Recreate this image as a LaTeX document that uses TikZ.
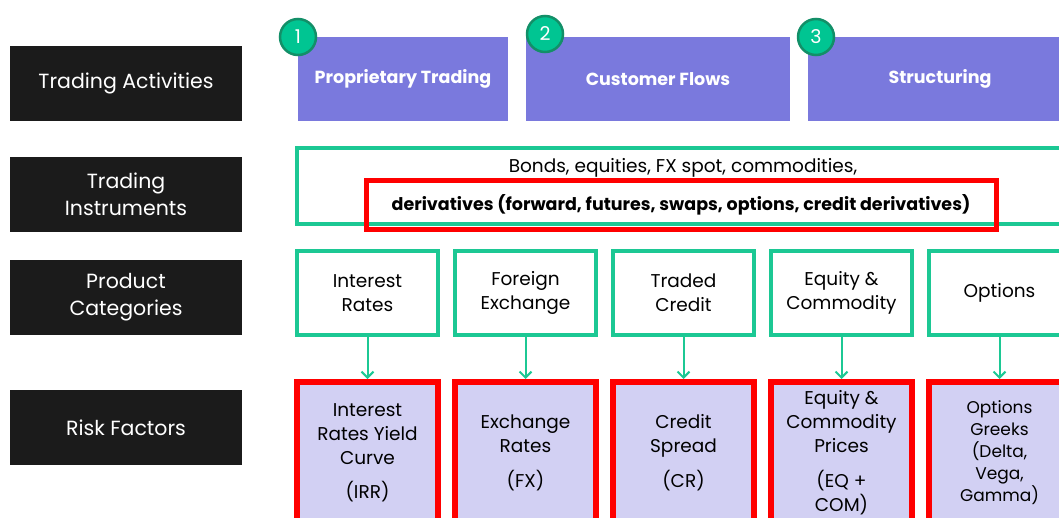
\documentclass[tikz,border=0pt]{standalone}
\usepackage{fontspec}
\setmainfont{Poppins}
\usetikzlibrary{positioning,arrows.meta}

\definecolor{labelblack}{HTML}{1B1B1B}
\definecolor{activityblue}{HTML}{7A79DD}
\definecolor{badgegreen}{HTML}{00C592}
\definecolor{badgeedge}{HTML}{138F68}
\definecolor{catgreen}{HTML}{1CC894}
\definecolor{riskfill}{HTML}{D2D0F3}
\definecolor{riskred}{HTML}{FF0000}

\begin{document}
\begin{tikzpicture}[x=1pt, y=-1pt,
    rowlabel/.style={fill=labelblack, text=white, minimum width=232pt, minimum height=75pt, align=center, inner sep=0pt, outer sep=0pt, font=\fontsize{20.5}{27}\selectfont},
    activity/.style={fill=activityblue, text=white, minimum height=84pt, inner sep=0pt, outer sep=0pt, font=\bfseries\fontsize{17.5}{20}\selectfont},
    badge/.style={circle, fill=badgegreen, draw=badgeedge, line width=2.5pt, text=white, minimum size=36pt, inner sep=0pt, font=\fontsize{19}{20}\selectfont},
    instrbox/.style={draw=catgreen, line width=3.5pt, minimum width=780pt, minimum height=76pt},
    highlight/.style={draw=riskred, line width=5pt, minimum width=630pt, minimum height=49pt, inner sep=0pt, font=\bfseries\fontsize{17.5}{20}\selectfont},
    category/.style={draw=catgreen, line width=3.5pt, minimum width=141pt, minimum height=84pt, align=center, inner sep=0pt, outer sep=0pt, font=\fontsize{18.5}{24}\selectfont},
    riskfactor/.style={draw=riskred, fill=riskfill, line width=6pt, minimum width=141pt, minimum height=142pt, align=center, inner sep=0pt, outer sep=0pt, font=\fontsize{18.5}{24}\selectfont},
    flow/.style={draw=catgreen, line width=2pt, -{Straight Barb[length=6pt, width=12pt]}, shorten >=3pt, shorten <=1.75pt},
    node distance=17pt,
  ]
    \clip (0,0) rectangle (1059,517);

    \node[rowlabel] (actlabel) at (126,83.5) {Trading Activities};
    \node[rowlabel, below=36pt of actlabel] (instrlabel) {Trading\\Instruments};
    \node[rowlabel, below=28pt of instrlabel] (catlabel) {Product\\Categories};
    \node[rowlabel, below=55pt of catlabel] (risklabel) {Risk Factors};

    \node[activity, minimum width=210pt] (prop) at (403,79) {Proprietary Trading};
    \node[activity, minimum width=264pt, right=18pt of prop] (flows) {Customer Flows};
    \node[activity, minimum width=264pt, right=18pt of flows] (struct) {Structuring};
    \node[badge] (one) at (prop.north west) {1};
    \node[badge] (two) at ([xshift=19pt, yshift=3pt]flows.north west) {2};
    \node[badge] (three) at ([xshift=8pt]struct.north west) {3};

    \node[instrbox] (instr) at (687,186) {};
    \node[font=\fontsize{18.5}{20}\selectfont] (bonds) at (683,168) {Bonds, equities, FX spot, commodities,};
    \node[highlight] (deriv) at (681,204.5) {derivatives (forward, futures, swaps, options, credit derivatives)};

    \node[category] (ir) at (367.5,293) {Interest\\Rates};
    \node[category, right=of ir] (fx) {Foreign\\Exchange};
    \node[category, right=of fx] (credit) {Traded\\Credit};
    \node[category, right=of credit] (eqcom) {Equity \&\\Commodity};
    \node[category, right=of eqcom] (opt) {Options};

    \node[riskfactor, below=47pt of ir] (irr) {Interest\\Rates Yield\\Curve\\[10pt](IRR)};
    \node[riskfactor, below=47pt of fx] (fxr) {Exchange\\Rates\\[11pt](FX)};
    \node[riskfactor, below=47pt of credit] (crr) {Credit\\Spread\\[11pt](CR)};
    \node[riskfactor, below=47pt of eqcom] (eqr) {Equity \&\\Commodity\\Prices\\[11pt](EQ +\\COM)};
    \node[riskfactor, below=47pt of opt, font=\fontsize{17}{22}\selectfont] (optr) {Options\\Greeks\\(Delta,\\Vega,\\Gamma)};

    \foreach \a/\b in {ir/irr, fx/fxr, credit/crr, eqcom/eqr, opt/optr}
      \draw[flow] (\a.south) -- (\b.north);
  \end{tikzpicture}
\end{document}
